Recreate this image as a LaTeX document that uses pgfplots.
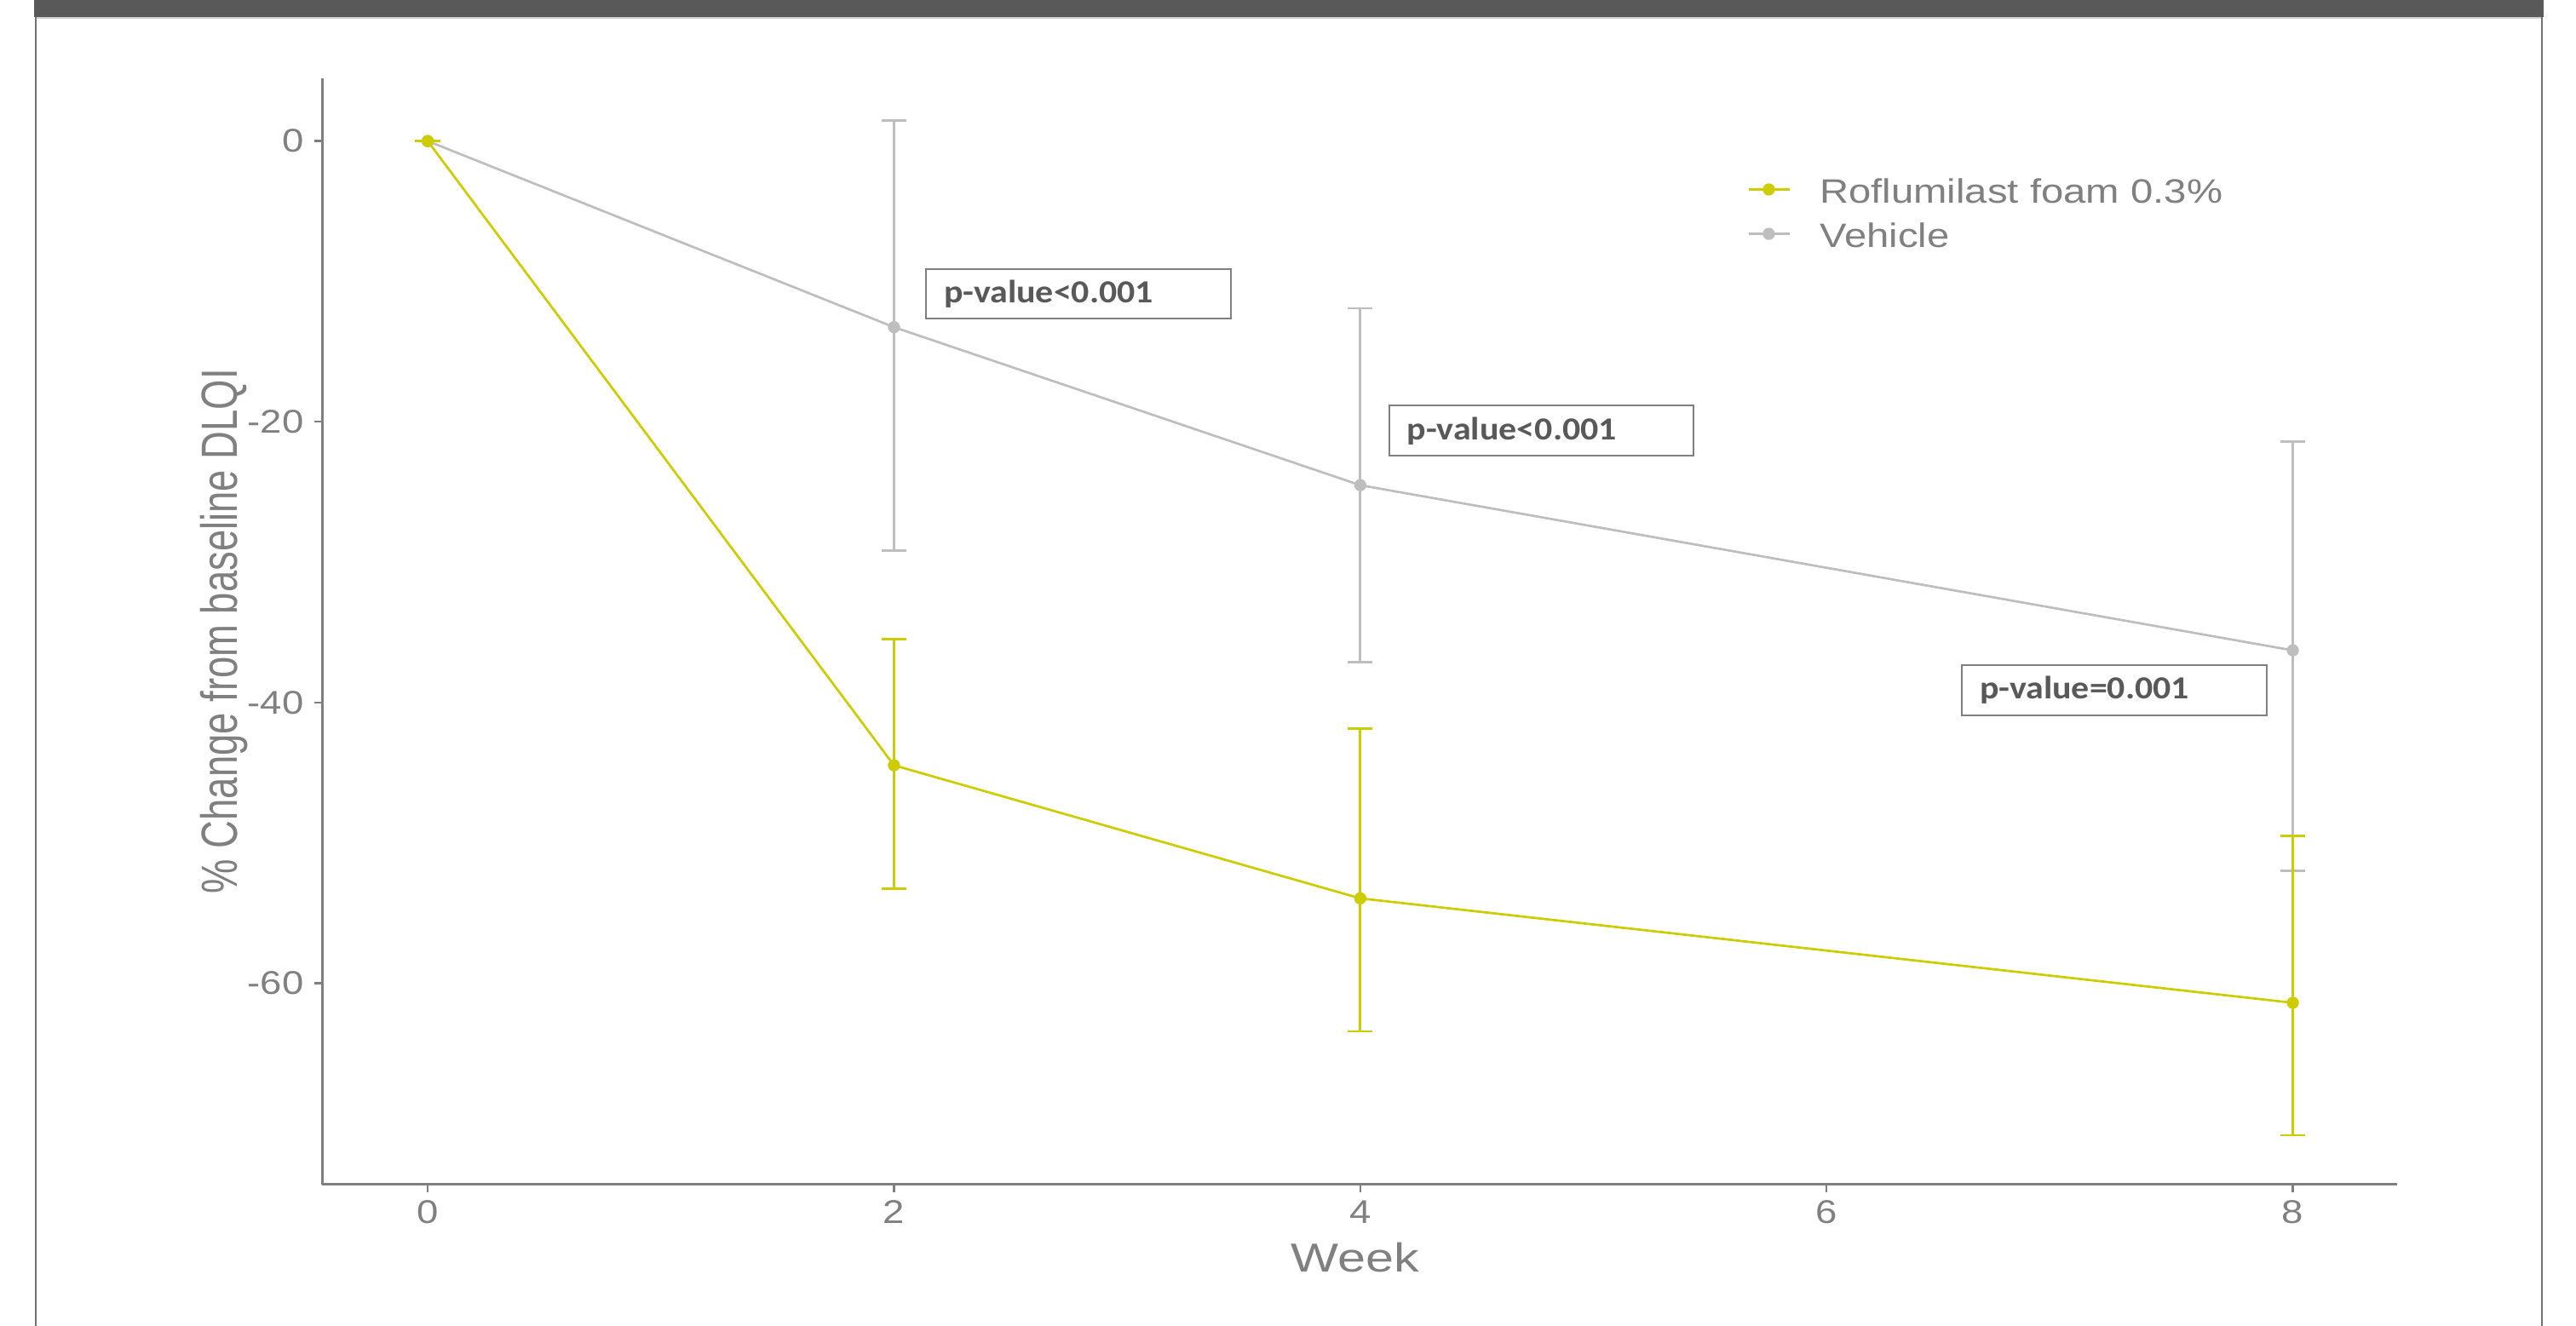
\documentclass[border=0pt]{standalone}
\usepackage{pgfplots}
\usepackage{pgfplotstable}
\pgfplotsset{compat=1.18}
\usepackage{fontspec}
\setmainfont{Liberation Sans}
\newfontfamily\tickfont{Liberation Sans}[FakeStretch=1.18]
\newfontfamily\legfont{Liberation Sans}[FakeStretch=1.19]
\newfontfamily\xlabfont{Liberation Sans}[FakeStretch=1.25]
\newfontfamily\ylabfont{Liberation Sans}[FakeStretch=0.76]
\newfontfamily\annfont{Carlito}[FakeStretch=1.11]
\definecolor{roflu}{RGB}{204,204,0}
\definecolor{vehic}{RGB}{190,190,190}
\definecolor{axgray}{RGB}{127,127,127}
\definecolor{txtgray}{RGB}{128,128,128}
\definecolor{anntext}{RGB}{89,89,89}
\definecolor{barc}{RGB}{89,89,89}
\definecolor{framec}{RGB}{115,115,115}
\definecolor{lightline}{RGB}{205,205,205}

\pgfplotstableread{
x y ep em
0 0 0 0
2 -44.48 8.97 8.78
4 -53.96 12.11 9.48
8 -61.40 11.89 9.44
}\tabRoflu

\pgfplotstableread{
x y ep em
0 0 0 0
2 -13.26 14.71 15.90
4 -24.52 12.61 12.61
8 -36.29 14.86 15.72
}\tabVeh

\begin{document}
\begin{tikzpicture}
\path[use as bounding box] (0,0) rectangle (784pt,403.66pt);
% frame
\fill[barc] (10.3pt,398.46pt) rectangle (774.2pt,403.66pt);
\draw[lightline, line width=0.5pt] (11.2pt,398.2pt) -- (773.3pt,398.2pt);
\draw[framec, line width=0.6pt] (10.9pt,0pt) -- (10.9pt,398.46pt);
\draw[framec, line width=0.6pt] (773.6pt,0pt) -- (773.6pt,398.46pt);

\begin{axis}[
  at={(98.1pt,43.1pt)}, anchor=south west,
  scale only axis, width=631.35pt, height=336.8pt,
  xmin=-0.452, xmax=8.446, ymin=-74.34, ymax=4.49,
  axis lines*=left,
  axis line style={axgray, line width=0.7pt},
  xtick={0,2,4,6,8}, xticklabels={0,2,4,6,8},
  ytick={-60,-40,-20,0}, yticklabels={-60,-40,-20,0},
  tick align=outside, major tick length=2.5pt,
  tick style={axgray, line width=0.6pt},
  xticklabel style={font=\fontsize{10}{12}\tickfont, text=txtgray, anchor=base, inner sep=0pt, yshift=-9.4pt},
  yticklabel style={font=\fontsize{10}{12}\tickfont, text=txtgray, anchor=east, inner sep=0pt, xshift=-3pt},
  xlabel={Week},
  ylabel={\% Change from baseline DLQI},
  xlabel style={at={(axis description cs:0.498,-0.079)}, anchor=base, font=\fontsize{12.3}{14}\xlabfont, text=txtgray},
  ylabel style={at={(axis description cs:-0.0411,0.5)}, anchor=base, font=\fontsize{15.5}{17}\ylabfont, text=txtgray},
  legend style={at={(axis description cs:0.6869,0.9223)}, anchor=north west,
    draw=none, fill=none, inner sep=0pt, outer sep=0pt,
    font=\fontsize{10.3}{12}\legfont, text=txtgray,
    row sep=-2pt,
    cells={anchor=west, inner sep=0pt, text height=10pt, text depth=0pt},
    /tikz/every odd column/.style={column sep=6.9pt}},
  legend image code/.code={\draw[mark repeat=2,mark phase=2,#1] plot coordinates {(0pt,0pt)(6.2pt,0pt)(12.45pt,0pt)};},
]
\addlegendimage{roflu, line width=0.7pt, mark=*, mark size=1.5pt}
\addlegendentry{Roflumilast foam 0.3\%}
\addlegendimage{vehic, line width=0.7pt, mark=*, mark size=1.5pt}
\addlegendentry{Vehicle}

\addplot[forget plot, vehic, line width=0.7pt, mark=*, mark size=1.5pt,
  error bars/.cd, y dir=both, y explicit,
  error bar style={line width=0.85pt, vehic},
  error mark options={vehic, line width=0.7pt, mark size=3.8pt, rotate=90}]
  table[x=x, y=y, y error plus=ep, y error minus=em] {\tabVeh};

\addplot[forget plot, roflu, line width=0.7pt, mark=*, mark size=1.5pt,
  error bars/.cd, y dir=both, y explicit,
  error bar style={line width=0.85pt, roflu},
  error mark options={roflu, line width=0.7pt, mark size=3.8pt, rotate=90}]
  table[x=x, y=y, y error plus=ep, y error minus=em] {\tabRoflu};

\tikzset{pbox/.style={draw=axgray, line width=0.5pt, fill=white, text=anntext,
  font=\fontsize{9.8}{11}\annfont\bfseries, text width=81.75pt, inner xsep=5.5pt,
  inner ysep=0pt, minimum height=15.2pt, align=left, anchor=center}}
\node[pbox] at (axis cs:2.790,-10.88) {p-value<0.001};
\node[pbox] at (axis cs:4.777,-20.64) {p-value<0.001};
\node[pbox] at (axis cs:7.233,-39.14) {p-value=0.001};
\end{axis}
\end{tikzpicture}
\end{document}
